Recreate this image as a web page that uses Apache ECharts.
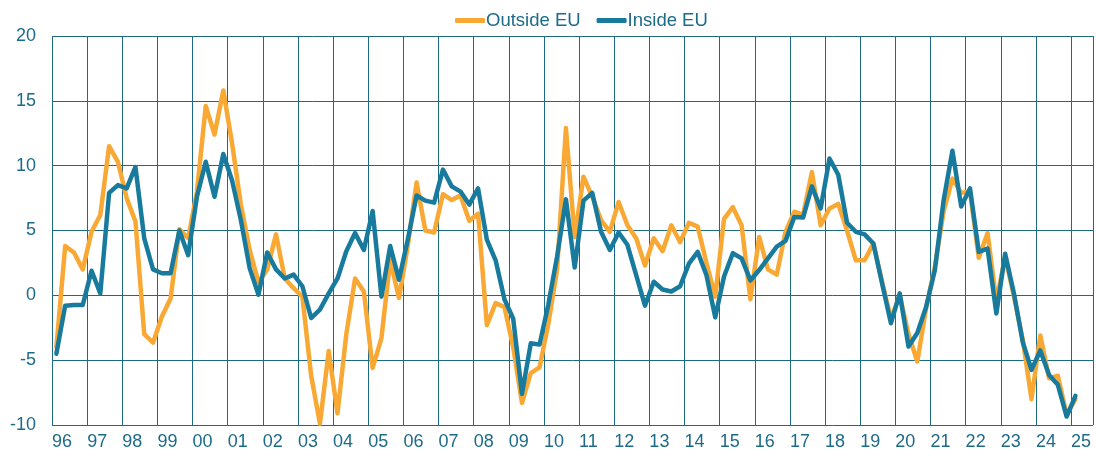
<!DOCTYPE html>
<html>
<head>
<meta charset="utf-8">
<script src="https://cdn.jsdelivr.net/npm/echarts@6/dist/echarts.min.js"></script>
<style>
  html, body { margin: 0; padding: 0; background: #fff; }
  #chart { width: 1096px; height: 456px; }
</style>
</head>
<body>
<div id="chart"></div>
<script>
  // year labels, one per year line (1996 .. 2025)
  var yearLabels = ['96','97','98','99','00','01','02','03','04','05','06','07','08','09','10',
    '11','12','13','14','15','16','17','18','19','20','21','22','23','24','25'];

  // quarterly values, 1996 Q1 .. 2025 Q1
  var outsideEU = [
    -4.0, 3.8, 3.3, 2.0,   4.9, 6.2, 11.5, 10.3,   7.5, 5.7, -3.0, -3.65,   -1.65, -0.25, 5.1, 4.4,
    8.0, 14.6, 12.4, 15.8,   11.7, 7.0, 3.5, 1.0,   2.0, 4.7, 1.3, 0.55,   -0.1, -6.2, -9.9, -4.3,
    -9.1, -3.0, 1.3, 0.3,   -5.6, -3.3, 2.7, -0.2,   3.8, 8.7, 5.0, 4.85,   7.8, 7.35, 7.7, 5.75,
    6.3, -2.3, -0.6, -0.9,   -4.0, -8.3, -6.0, -5.55,   -2.2, 2.0, 12.9, 4.5,   9.15, 7.6, 5.8, 4.9,
    7.2, 5.4, 4.4, 2.3,   4.4, 3.4, 5.4, 4.1,   5.6, 5.3, 2.5, -0.1,   5.9, 6.8, 5.4, -0.3,
    4.5, 2.0, 1.6, 4.9,   6.45, 6.2, 9.5, 5.4,   6.7, 7.05, 5.0, 2.7,   2.7, 4.0, 1.0, -1.8,
    0.0, -3.0, -5.1, -1.0,   2.2, 6.5, 9.0, 7.9,   8.0, 2.9, 4.8, -0.5,   3.0, -0.1, -3.4, -8.0,
    -3.1, -6.4, -6.2, -9.2,   -8.0
  ];
  var insideEU = [
    -4.5, -0.8, -0.75, -0.75,   1.9, 0.15, 7.9, 8.5,   8.25, 9.9, 4.4, 2.0,   1.7, 1.7, 5.0, 3.1,
    7.6, 10.3, 7.6, 10.9,   8.85, 5.8, 2.1, 0.05,   3.3, 2.0, 1.3, 1.6,   0.7, -1.75, -1.1, 0.15,
    1.3, 3.4, 4.8, 3.5,   6.5, -0.1, 3.8, 1.2,   4.3, 7.7, 7.3, 7.15,   9.7, 8.4, 8.0, 7.0,
    8.25, 4.3, 2.7, -0.3,   -1.8, -7.6, -3.7, -3.8,   -0.7, 3.0, 7.4, 2.15,   7.3, 7.9, 4.9, 3.5,
    4.85, 3.9, 1.55, -0.8,   1.05, 0.45, 0.3, 0.7,   2.45, 3.35, 1.55, -1.7,   1.45, 3.25, 2.85, 1.15,
    1.95, 2.85, 3.75, 4.2,   6.05, 6.0, 8.4, 6.7,   10.55, 9.3, 5.6, 4.9,   4.7, 4.0, 0.9, -2.15,
    0.15, -3.95, -2.9, -0.9,   1.95, 7.35, 11.15, 6.85,   8.25, 3.35, 3.6, -1.4,   3.2, 0.15, -3.6, -5.75,
    -4.25, -6.15, -6.9, -9.35,   -7.75
  ];

  var textColor = '#1b6b89';
  var gridColor = '#1c6a86';
  var font = 'Liberation Sans, Arial, sans-serif';

  // each quarter sits in the middle of its band, year lines on band edges
  function toPoints(arr) {
    return arr.map(function (v, i) { return [i + 0.5, v]; });
  }

  var myChart = echarts.init(document.getElementById('chart'));
  var option = {
    animation: false,
    backgroundColor: '#fff',
    textStyle: { fontFamily: font },
    legend: {
      data: ['Outside EU', 'Inside EU'],
      left: 450,
      top: 6,
      icon: 'roundRect',
      itemWidth: 30,
      itemHeight: 5,
      itemGap: 16,
      textStyle: { fontSize: 18.5, color: textColor, fontFamily: font, padding: [0, 0, 0, -4] }
    },
    grid: {
      left: 52,
      top: 36,
      right: 0,
      height: 389
    },
    xAxis: {
      type: 'value',
      min: 0,
      max: 118.5,
      interval: 4,
      axisLine: { show: false },
      axisTick: { show: false },
      splitLine: { show: true, lineStyle: { color: gridColor, width: 1 } },
      axisLabel: {
        align: 'left',
        margin: 8,
        fontSize: 18,
        color: textColor,
        fontFamily: font,
        showMinLabel: true,
        showMaxLabel: true,
        formatter: function (v) {
          if (v % 4 !== 0) return '';
          return yearLabels[v / 4] || '';
        }
      }
    },
    yAxis: {
      type: 'value',
      min: -10,
      max: 20,
      interval: 5,
      axisLine: { show: false },
      axisTick: { show: false },
      splitLine: { show: true, lineStyle: { color: gridColor, width: 1 } },
      axisLabel: { fontSize: 18, color: textColor, margin: 16, fontFamily: font }
    },
    series: [
      {
        name: 'Outside EU',
        type: 'line',
        symbol: 'none',
        color: '#f9a833',
        lineStyle: { width: 4.5, color: '#f9a833', join: 'round', cap: 'round' },
        data: toPoints(outsideEU)
      },
      {
        name: 'Inside EU',
        type: 'line',
        symbol: 'none',
        color: '#187b9d',
        lineStyle: { width: 4.5, color: '#187b9d', join: 'round', cap: 'round' },
        data: toPoints(insideEU)
      }
    ]
  };
  myChart.setOption(option);
</script>
</body>
</html>
